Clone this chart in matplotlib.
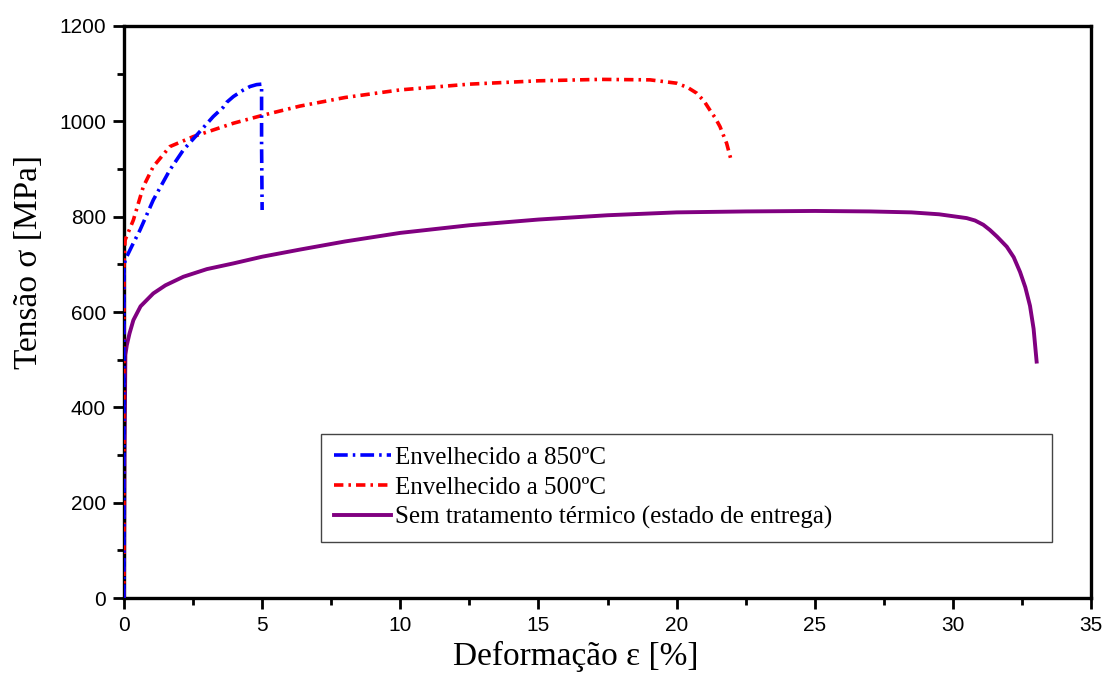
import matplotlib
matplotlib.use("Agg")
import matplotlib.pyplot as plt
from matplotlib.ticker import MultipleLocator

# ---------------------------------------------------------------------------
# Data (strain in %, stress in MPa)
# ---------------------------------------------------------------------------
# Envelhecido a 850ºC
strain_850 = [0, 0.0, 0.04, 0.3, 0.58, 1.06, 1.66, 2.15, 2.63, 3.23, 3.6, 3.72,
              3.96, 4.3, 4.56, 4.8, 4.98, 4.98, 5.0]
stress_850 = [0, 690, 709, 740, 772, 835, 898, 940, 971, 1010, 1030, 1040,
              1052, 1065, 1073, 1077, 1078, 950, 814]

# Envelhecido a 500ºC
strain_500 = [0, 0.0, 0.04, 0.34, 0.7, 1.06, 1.66, 2.51, 3.96, 5.04, 6.37, 8,
              10, 12.5, 15, 17.23, 19.04, 20.0, 20.4, 20.73, 21.0, 21.2, 21.4,
              21.57, 21.81, 21.99]
stress_500 = [0, 700, 751, 793, 863, 905, 947, 968, 996, 1013, 1032, 1050,
              1066, 1078, 1085, 1088, 1087, 1080, 1071, 1059, 1042, 1024, 1007,
              989, 954, 915]

# Sem tratamento térmico (estado de entrega)
strain_st = [0, 0.02, 0.05, 0.1, 0.2, 0.34, 0.6, 1.06, 1.5, 2.15, 3.0, 3.96,
             5.0, 6.37, 8, 10, 12.5, 15, 17.5, 20, 22.5, 25, 27, 28.5, 29.0,
             29.5, 30.0, 30.5, 30.8, 31.1, 31.34, 31.6, 31.95, 32.2, 32.43,
             32.62, 32.79, 32.92, 33.03]
stress_st = [0, 300, 510, 530, 555, 583, 612, 639, 656, 674, 690, 702,
             716, 731, 748, 766, 782, 794, 803, 809, 811, 812, 811, 809, 807,
             805, 801, 797, 792, 783, 772, 758, 737, 715, 684,
             652, 613, 565, 496]

labels = ["Envelhecido a 850ºC",
          "Envelhecido a 500ºC",
          "Sem tratamento térmico (estado de entrega)"]

# ---------------------------------------------------------------------------
# Figure
# ---------------------------------------------------------------------------
fig = plt.figure(figsize=(11.07, 6.75), dpi=100)
ax = fig.add_axes([0.112, 0.114, 0.8736, 0.8475])

ax.plot(strain_850, stress_850, color="#0000ff", lw=2.6,
        linestyle=(0, (3.8, 1.4, 0.7, 1.4)), label=labels[0], zorder=4)
ax.plot(strain_500, stress_500, color="#ff0000", lw=2.6,
        linestyle=(0, (2.6, 1.4, 0.7, 1.4)), label=labels[1], zorder=3)
ax.plot(strain_st, stress_st, color="#800080", lw=2.8,
        linestyle="-", label=labels[2], zorder=2)

ax.set_xlim(0, 35)
ax.set_ylim(0, 1200)
ax.xaxis.set_major_locator(MultipleLocator(5))
ax.xaxis.set_minor_locator(MultipleLocator(2.5))
ax.yaxis.set_major_locator(MultipleLocator(200))
ax.yaxis.set_minor_locator(MultipleLocator(100))

tick_font = ["Liberation Sans", "DejaVu Sans"]
ax.tick_params(which="major", direction="out", length=8, width=2,
               labelsize=15, pad=5)
ax.tick_params(which="minor", direction="out", length=5, width=2)
for lab in ax.get_xticklabels() + ax.get_yticklabels():
    lab.set_family(tick_font)

for sp in ax.spines.values():
    sp.set_linewidth(2.4)

label_font = ["Liberation Serif", "DejaVu Serif"]
ax.set_xlabel("Deformação ε [%]", fontsize=24, family=label_font)
ax.set_ylabel("Tensão σ [MPa]", fontsize=24, family=label_font)
ax.xaxis.set_label_coords(0.467, -0.075)
ax.yaxis.set_label_coords(-0.083, 0.587)

leg = ax.legend(loc="upper left", bbox_to_anchor=(0.204, 0.086, 0.756, 0.201),
                mode="expand",
                prop={"family": label_font, "size": 18},
                fancybox=False, framealpha=1, edgecolor="#444444",
                handlelength=2.3, handletextpad=0.15, labelspacing=0.3,
                borderpad=0.5, borderaxespad=0)
leg.get_frame().set_linewidth(1.0)

fig.savefig("out.png", dpi=100)
